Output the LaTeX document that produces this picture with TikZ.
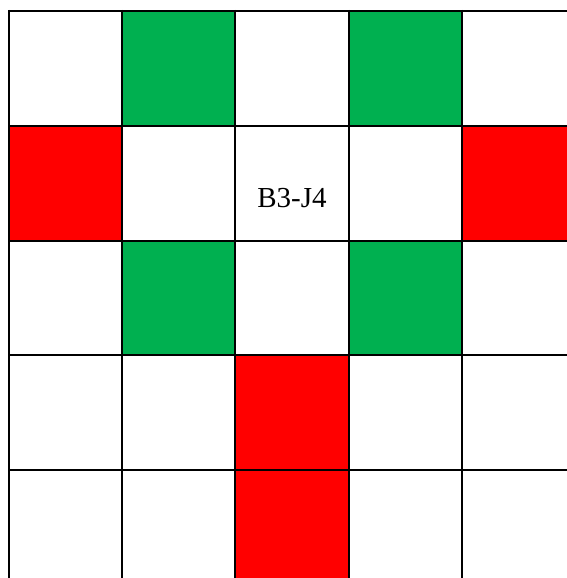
\documentclass[tikz,border=0pt]{standalone}
\usepackage{fontspec}
\setmainfont{Liberation Serif}
\usetikzlibrary{positioning}
\definecolor{cellgreen}{HTML}{00B050}
\definecolor{cellred}{HTML}{FF0000}

\begin{document}
\begin{tikzpicture}[x=1pt,y=-1pt,
    gridline/.style={line width=2pt,black},
    celltext/.style={font=\fontsize{29}{33}\selectfont,inner sep=0pt}]
  \useasboundingbox (0,0) rectangle (567,578);
  % coloured cells (column/row/colour)
  \foreach \c/\r/\col in {1/0/cellgreen,3/0/cellgreen,0/1/cellred,4/1/cellred,
                          1/2/cellgreen,3/2/cellgreen,2/3/cellred,2/4/cellred}{
    \pgfmathsetmacro{\xa}{9+113.2*\c}
    \pgfmathsetmacro{\ya}{11+114.75*\r}
    \pgfmathsetmacro{\xb}{min(567,9+113.2*(\c+1))}
    \pgfmathsetmacro{\yb}{min(578,11+114.75*(\r+1))}
    \fill[\col] (\xa,\ya) rectangle (\xb,\yb);
  }
  % grid lines, cut off at right and bottom
  \foreach \c in {0,...,4}
    \draw[gridline] ({9+113.2*\c},10) -- ({9+113.2*\c},578);
  \foreach \r in {0,...,4}
    \draw[gridline] (8,{11+114.75*\r}) -- (567,{11+114.75*\r});
  \node[celltext] (label) at (292,198) {B3-J4};
\end{tikzpicture}
\end{document}
